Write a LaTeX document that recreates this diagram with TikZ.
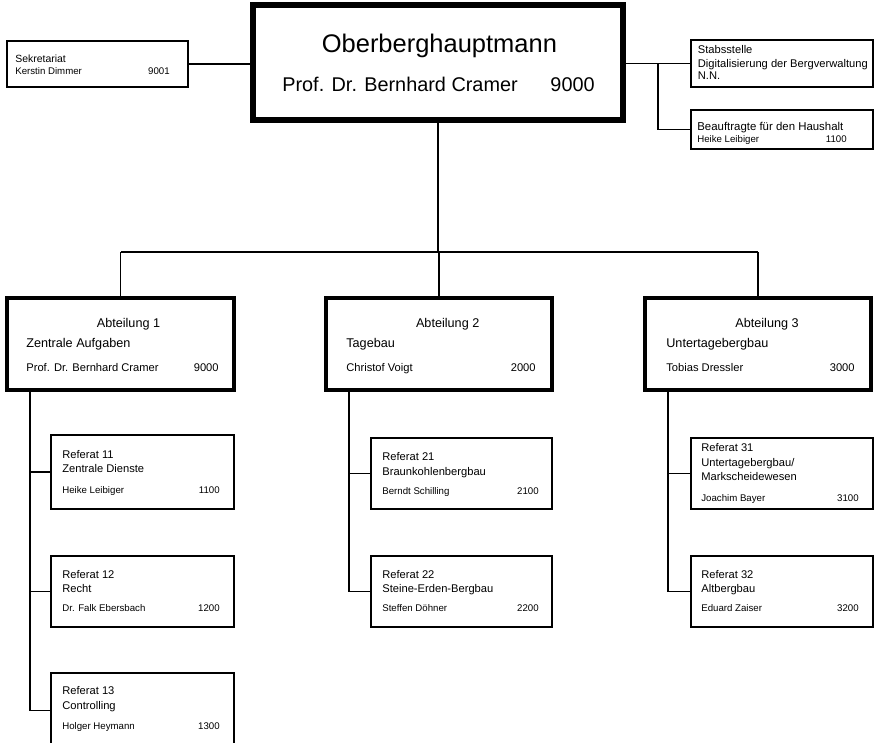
\documentclass[tikz,border=0pt]{standalone}
\usepackage{fontspec}
\setmainfont{Liberation Sans}
\usepackage{tikz}
\usetikzlibrary{fit}
\tikzstyle{chiefbox} = [draw, rectangle, line width=3.7pt, inner sep=0pt]
\tikzstyle{deptbox} = [draw, rectangle, line width=2.5pt, inner sep=0pt]
\tikzstyle{unitbox} = [draw, rectangle, line width=0.85pt, inner sep=0pt]
\tikzstyle{lbl} = [anchor=base west, inner sep=0pt]
\tikzstyle{mid} = [anchor=base, inner sep=0pt]
\tikzstyle{ext} = [anchor=base east, inner sep=0pt]
\tikzstyle{link} = [line width=0.65pt]
\newcommand{\fsHead}{\fontsize{14.5}{17}\selectfont}
\newcommand{\fsBoss}{\fontsize{11.3}{13}\selectfont}
\newcommand{\fsDept}{\fontsize{7.2}{8.5}\selectfont}
\newcommand{\fsUnit}{\fontsize{6.35}{7.5}\selectfont}
\newcommand{\fsName}{\fontsize{5.5}{6.5}\selectfont}

\begin{document}
\begin{tikzpicture}[x=0.02cm, y=-0.02cm]
    \useasboundingbox (0,0) rectangle (875,743);
    % boxes
    \node [chiefbox, fit={(253,5) (623,120)}] (chief) {};
    \node [unitbox, fit={(7,41) (188,87)}] (sek) {};
    \node [unitbox, fit={(691,40) (873,87)}] (stab) {};
    \node [unitbox, fit={(691,110) (873,149)}] (haus) {};
    \node [deptbox, fit={(7,298) (234,390)}] (abt1) {};
    \node [deptbox, fit={(326,298) (552,390)}] (abt2) {};
    \node [deptbox, fit={(645,298) (871,390)}] (abt3) {};
    \node [unitbox, fit={(51,435) (234,509)}] (ref11) {};
    \node [unitbox, fit={(51,556) (234,627)}] (ref12) {};
    \node [unitbox, fit={(51,673) (234,748)}] (ref13) {};
    \node [unitbox, fit={(371,438) (552,509)}] (ref21) {};
    \node [unitbox, fit={(371,556) (552,627)}] (ref22) {};
    \node [unitbox, fit={(691,438) (873,509)}] (ref31) {};
    \node [unitbox, fit={(691,556) (873,627)}] (ref32) {};

    % texts
    \node [lbl] (chiefT) at (321.5,52.7) {\fsHead Oberberghauptmann};
    \node [lbl] (chiefN) at (282,91.7) {\fsBoss Prof. Dr. Bernhard Cramer};
    \node [ext] (chiefX) at (595,91.7) {\fsBoss 9000};

    \node [lbl] (sekT) at (15,62.3) {\fontsize{5.95}{7}\selectfont Sekretariat};
    \node [lbl] (sekN) at (15,75) {\fsName Kerstin Dimmer};
    \node [ext] (sekX) at (170,75) {\fsName 9001};

    \node [lbl] (stabT) at (697.5,54) {\fsUnit Stabsstelle};
    \node [lbl] (stabS) at (697.5,67.7) {\fsUnit Digitalisierung der Bergverwaltung};
    \node [lbl] (stabN) at (697.5,79.3) {\fsUnit N.N.};

    \node [lbl] (hausT) at (697,131) {\fontsize{6.5}{7.5}\selectfont Beauftragte für den Haushalt};
    \node [lbl] (hausN) at (697,142.5) {\fsName Heike Leibiger};
    \node [ext] (hausX) at (847,142.5) {\fsName 1100};

    \node [mid] (abt1T) at (128.5,327.3) {\fsDept Abteilung 1};
    \node [lbl] (abt1S) at (26,347.3) {\fsDept Zentrale Aufgaben};
    \node [lbl] (abt1N) at (26,371) {\fsUnit Prof. Dr. Bernhard Cramer};
    \node [ext] (abt1X) at (219,371) {\fsUnit 9000};

    \node [mid] (abt2T) at (447.7,327.3) {\fsDept Abteilung 2};
    \node [lbl] (abt2S) at (346,347.3) {\fsDept Tagebau};
    \node [lbl] (abt2N) at (346,371) {\fsUnit Christof Voigt};
    \node [ext] (abt2X) at (536,371) {\fsUnit 2000};

    \node [mid] (abt3T) at (767,327.3) {\fsDept Abteilung 3};
    \node [lbl] (abt3S) at (666,347.3) {\fsDept Untertagebergbau};
    \node [lbl] (abt3N) at (666,371) {\fsUnit Tobias Dressler};
    \node [ext] (abt3X) at (855,371) {\fsUnit 3000};

    \node [lbl] (ref11T) at (62,458.3) {\fsUnit Referat 11};
    \node [lbl] (ref11S) at (62,472.3) {\fsUnit Zentrale Dienste};
    \node [lbl] (ref11N) at (62,493) {\fsName Heike Leibiger};
    \node [ext] (ref11X) at (220,493) {\fsName 1100};

    \node [lbl] (ref12T) at (62,578.3) {\fsUnit Referat 12};
    \node [lbl] (ref12S) at (62,592.3) {\fsUnit Recht};
    \node [lbl] (ref12N) at (62,611.7) {\fsName Dr. Falk Ebersbach};
    \node [ext] (ref12X) at (220,611.7) {\fsName 1200};

    \node [lbl] (ref13T) at (62,694.3) {\fsUnit Referat 13};
    \node [lbl] (ref13S) at (62,709.3) {\fsUnit Controlling};
    \node [lbl] (ref13N) at (62,729.3) {\fsName Holger Heymann};
    \node [ext] (ref13X) at (220,729.3) {\fsName 1300};

    \node [lbl] (ref21T) at (382,460.7) {\fsUnit Referat 21};
    \node [lbl] (ref21S) at (382,475) {\fsUnit Braunkohlenbergbau};
    \node [lbl] (ref21N) at (382,494.3) {\fsName Berndt Schilling};
    \node [ext] (ref21X) at (539,494.3) {\fsName 2100};

    \node [lbl] (ref22T) at (382,578.3) {\fsUnit Referat 22};
    \node [lbl] (ref22S) at (382,592.3) {\fsUnit Steine-Erden-Bergbau};
    \node [lbl] (ref22N) at (382,611.7) {\fsName Steffen Döhner};
    \node [ext] (ref22X) at (539,611.7) {\fsName 2200};

    \node [lbl] (ref31T) at (701,451.7) {\fsUnit Referat 31};
    \node [lbl] (ref31S) at (701,466) {\fsUnit Untertagebergbau/};
    \node [lbl] (ref31M) at (701,480.7) {\fsUnit Markscheidewesen};
    \node [lbl] (ref31N) at (701,501.7) {\fsName Joachim Bayer};
    \node [ext] (ref31X) at (859,501.7) {\fsName 3100};

    \node [lbl] (ref32T) at (701,578.3) {\fsUnit Referat 32};
    \node [lbl] (ref32S) at (701,592.3) {\fsUnit Altbergbau};
    \node [lbl] (ref32N) at (701,611.7) {\fsName Eduard Zaiser};
    \node [ext] (ref32X) at (859,611.7) {\fsName 3200};

    % lines
    \coordinate (bus) at (0,252);
    \coordinate (fork) at (658,0);
    \coordinate (spine1) at (30,0);
    \coordinate (spine2) at (349,0);
    \coordinate (spine3) at (668,0);

    \draw [link] (sek.east) -- (sek.east -| chief.west);
    \draw [link] (chief.east |- stab.west) -- (stab.west);
    \draw [link] (fork |- stab.west) |- (haus.west);
    \draw [link] (chief.south) -- (chief.south |- bus);
    \draw [link] (abt1.north |- bus) -- (abt3.north |- bus);
    \foreach \a in {abt1,abt2,abt3}
        \draw [link] (\a.north |- bus) -- (\a.north);

    \draw [link] (spine1 |- abt1.south) |- (ref13.west);
    \draw [link] (spine1 |- ref11.west) -- (ref11.west);
    \draw [link] (spine1 |- ref12.west) -- (ref12.west);
    \draw [link] (spine2 |- abt2.south) |- (ref22.west);
    \draw [link] (spine2 |- ref21.west) -- (ref21.west);
    \draw [link] (spine3 |- abt3.south) |- (ref32.west);
    \draw [link] (spine3 |- ref31.west) -- (ref31.west);
\end{tikzpicture}
\end{document}
